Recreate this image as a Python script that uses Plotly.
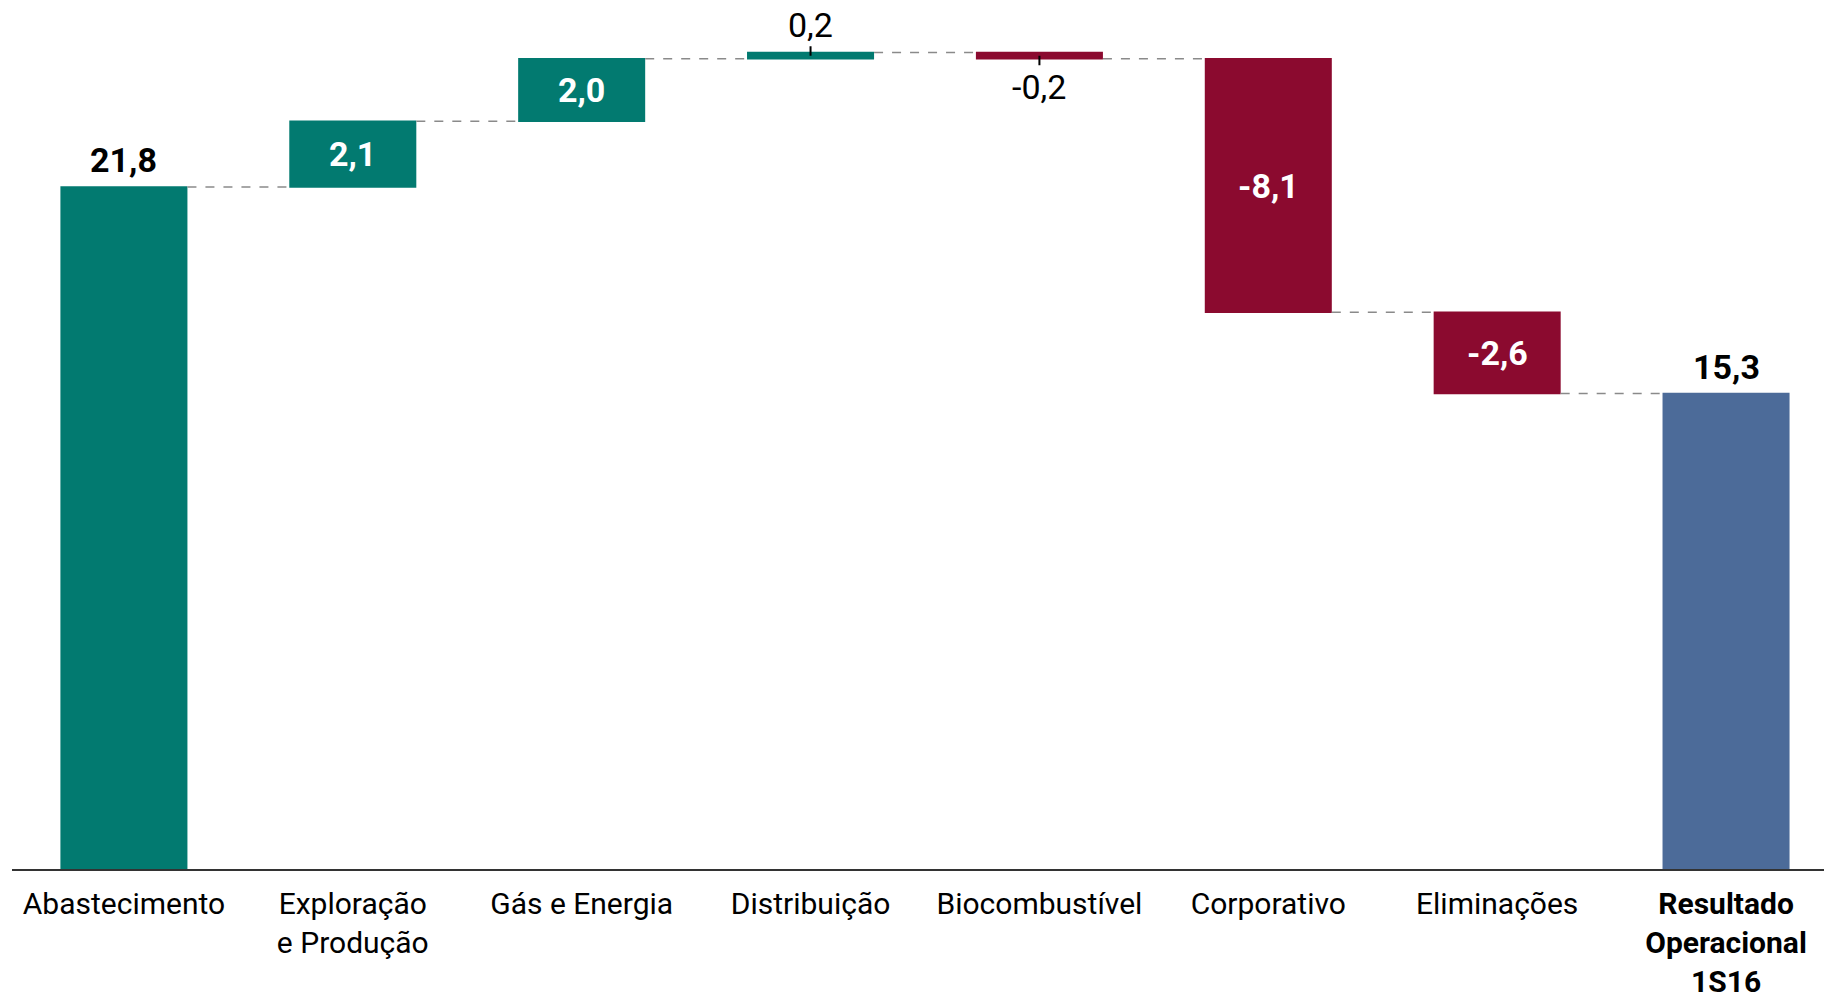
import numpy as np
import plotly.graph_objects as go

categorias = [
    "Abastecimento",
    "Exploração<br>e Produção",
    "Gás e Energia",
    "Distribuição",
    "Biocombustível",
    "Corporativo",
    "Eliminações",
    "<b>Resultado<br>Operacional<br>1S16</b>",
]
valores = [21.8, 2.1, 2.0, 0.2, -0.2, -8.1, -2.6, 15.3]
medidas = ["relative"] * 7 + ["total"]
rotulos = ["21,8", "2,1", "2,0", "0,2", "-0,2", "-8,1", "-2,6", "15,3"]
# onde fica cada rótulo: acima, dentro ou abaixo da barra
posicao_rotulo = ["acima", "dentro", "dentro", "acima_tick", "abaixo_tick", "dentro", "dentro", "acima"]

VERDE = "#027A70"
VINHO = "#8B0A2F"
AZUL = "#4C6B99"
FONTE = "Roboto, sans-serif"

fig = go.Figure()

fig.add_trace(
    go.Waterfall(
        x=categorias,
        y=valores,
        measure=medidas,
        width=0.555,
        increasing=dict(marker=dict(color=VERDE)),
        decreasing=dict(marker=dict(color=VINHO)),
        totals=dict(marker=dict(color=AZUL)),
        connector=dict(mode="between", line=dict(color="#8a8a8a", width=1.5, dash="dash")),
        textposition="none",
        hoverinfo="skip",
    )
)

# posições das barras (início e fim acumulados)
fim = np.cumsum(valores[:-1]).tolist() + [sum(valores[:-1])]
inicio = [0.0] + fim[:-2] + [0.0]

for i, cat in enumerate(categorias):
    topo = max(inicio[i], fim[i])
    meio = (inicio[i] + fim[i]) / 2
    pos = posicao_rotulo[i]
    if pos == "acima":
        fig.add_annotation(
            x=cat, y=topo, text=f"<b>{rotulos[i]}</b>", showarrow=False,
            yanchor="bottom", yshift=5,
            font=dict(family=FONTE, size=34, color="#000000"),
        )
    elif pos == "dentro":
        fig.add_annotation(
            x=cat, y=meio, text=f"<b>{rotulos[i]}</b>", showarrow=False,
            font=dict(family=FONTE, size=34, color="#ffffff"),
        )
    else:
        fig.add_annotation(
            x=cat, y=meio, text=rotulos[i], showarrow=True,
            arrowhead=0, arrowwidth=2, arrowcolor="#000000",
            ax=0, ay=-31 if pos == "acima_tick" else 31,
            standoff=0, startstandoff=0,
            font=dict(family=FONTE, size=34, color="#000000"),
        )

fig.update_layout(
    width=1824,
    height=1000,
    margin=dict(l=12, r=0, t=0, b=131),
    plot_bgcolor="#ffffff",
    paper_bgcolor="#ffffff",
    showlegend=False,
    font=dict(family=FONTE, size=30, color="#000000"),
)

fig.update_yaxes(
    range=[0, 27.78],
    visible=False,
    showgrid=False,
    zeroline=False,
    automargin=False,
)

fig.update_xaxes(
    range=[-0.489, 7.428],
    showline=True,
    linecolor="#333333",
    linewidth=2,
    showgrid=False,
    ticks="",
    ticklabelstandoff=7,
    automargin=False,
    tickfont=dict(family=FONTE, size=30, color="#000000"),
)

fig.write_html(
    "out.html",
    config={"displayModeBar": False},
    post_script="document.body.style.margin='0';",
)
